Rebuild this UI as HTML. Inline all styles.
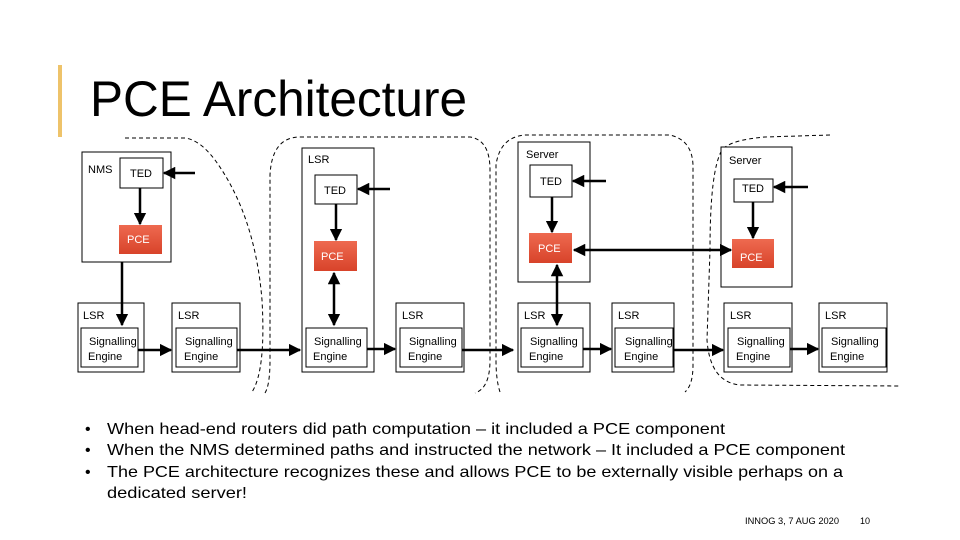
<!DOCTYPE html>
<html><head><meta charset="utf-8"><style>
html,body{margin:0;padding:0;background:#fff;}
svg{display:block;}
text{font-family:"Liberation Sans",sans-serif;fill:#000;}
</style></head><body>
<svg width="960" height="540" viewBox="0 0 960 540" xmlns="http://www.w3.org/2000/svg">
<defs>
<marker id="ah" viewBox="0 0 10 10" refX="9" refY="5" markerWidth="5" markerHeight="5" orient="auto-start-reverse"><path d="M0,0 L10,5 L0,10 z" fill="#000"/></marker>
<linearGradient id="pg" x1="0" y1="0" x2="0" y2="1"><stop offset="0" stop-color="#ee6a50"/><stop offset="1" stop-color="#d8432a"/></linearGradient>
</defs>
<rect x="58" y="65" width="4" height="72" fill="#eec36a"/>
<text x="90" y="116" font-size="50" textLength="377" lengthAdjust="spacingAndGlyphs">PCE Architecture</text>

<g fill="none" stroke="#000" stroke-width="1" stroke-dasharray="4,3">
<path d="M125,138 L185,138 Q200,140 215,160 Q255,215 262,300 Q266,370 252,392"/>
<path d="M300,137 L470,137 Q490,140 490,170 L490,360 Q490,388 475,393"/>
<path d="M265,393 Q270,385 270,360 L270,175 Q272,137 300,137"/>
<path d="M500,392 Q496,380 496,360 L496,165 Q500,137 525,135 L670,135 Q692,140 693,165 L693,365 Q693,385 685,392"/>
<path d="M830,135 L765,137 Q730,140 722,150 Q710,170 710,250 L707,340 Q710,382 740,385 L900,386"/>
</g>

<g fill="#fff" stroke="#000" stroke-width="1">
<rect x="82" y="152" width="89" height="110"/>
<rect x="120" y="158" width="43" height="30"/>
<rect x="302" y="148" width="72" height="224"/>
<rect x="315" y="175" width="42" height="29"/>
<rect x="518" y="142" width="72" height="140"/>
<rect x="530" y="165" width="42" height="32"/>
<rect x="721" y="147" width="71" height="140"/>
<rect x="734" y="179" width="39" height="23"/>
<rect x="78" y="303" width="66" height="69"/><rect x="81" y="328" width="57" height="39"/>
<rect x="172" y="303" width="68" height="69"/><rect x="176" y="328" width="61" height="39"/>
<rect x="306" y="328" width="61" height="39"/>
<rect x="396" y="303" width="68" height="69"/><rect x="400" y="328" width="62" height="39"/>
<rect x="518" y="303" width="72" height="69"/><rect x="521" y="328" width="62" height="39"/>
<rect x="612" y="303" width="62" height="69"/><rect x="615" y="328" width="58" height="39"/>
<rect x="724" y="303" width="68" height="69"/><rect x="728" y="328" width="62" height="39"/>
<rect x="819" y="303" width="68" height="69"/><rect x="822" y="328" width="64" height="39"/>
</g>
<g fill="url(#pg)">
<rect x="119" y="225" width="43" height="29"/>
<rect x="314" y="241" width="43" height="30"/>
<rect x="529" y="233" width="43" height="30"/>
<rect x="732" y="239" width="42" height="29"/>
</g>

<g stroke="#000" stroke-width="2.5" fill="none" marker-end="url(#ah)">
<line x1="195" y1="173" x2="164" y2="173"/>
<line x1="140" y1="188" x2="140" y2="224"/>
<line x1="122" y1="262" x2="122" y2="325"/>
<line x1="390" y1="189" x2="358" y2="189"/>
<line x1="336" y1="204" x2="336" y2="240"/>
<line x1="334" y1="273" x2="334" y2="325" marker-start="url(#ah)"/>
<line x1="606" y1="181" x2="573" y2="181"/>
<line x1="552" y1="197" x2="552" y2="232"/>
<line x1="574" y1="250" x2="731" y2="250" marker-start="url(#ah)"/>
<line x1="557" y1="265" x2="557" y2="325" marker-start="url(#ah)"/>
<line x1="808" y1="187" x2="774" y2="187"/>
<line x1="753" y1="202" x2="753" y2="238"/>
<line x1="138" y1="350" x2="171" y2="350"/>
<line x1="237" y1="350" x2="300" y2="350"/>
<line x1="367" y1="349" x2="395" y2="349"/>
<line x1="462" y1="350" x2="513" y2="350"/>
<line x1="583" y1="349" x2="611" y2="349"/>
<line x1="673" y1="350" x2="723" y2="350"/>
<line x1="790" y1="349" x2="818" y2="349"/>
</g>

<g font-size="11">
<text x="88" y="173">NMS</text>
<text x="130" y="177">TED</text>
<text x="127" y="243" style="fill:#fff">PCE</text>
<text x="308" y="163">LSR</text>
<text x="324" y="194">TED</text>
<text x="321" y="260" style="fill:#fff">PCE</text>
<text x="526" y="158">Server</text>
<text x="540" y="185">TED</text>
<text x="538" y="252" style="fill:#fff">PCE</text>
<text x="729" y="164">Server</text>
<text x="742" y="192">TED</text>
<text x="740" y="261" style="fill:#fff">PCE</text>
<text x="83" y="319">LSR</text><text x="178" y="319">LSR</text><text x="402" y="319">LSR</text>
<text x="524" y="319">LSR</text><text x="618" y="319">LSR</text><text x="730" y="319">LSR</text><text x="825" y="319">LSR</text>
<text x="89" y="345">Signalling</text><text x="88" y="360">Engine</text>
<text x="185" y="345">Signalling</text><text x="184" y="360">Engine</text>
<text x="314" y="345">Signalling</text><text x="313" y="360">Engine</text>
<text x="409" y="345">Signalling</text><text x="408" y="360">Engine</text>
<text x="530" y="345">Signalling</text><text x="529" y="360">Engine</text>
<text x="625" y="345">Signalling</text><text x="624" y="360">Engine</text>
<text x="737" y="345">Signalling</text><text x="736" y="360">Engine</text>
<text x="831" y="345">Signalling</text><text x="830" y="360">Engine</text>
</g>

<g font-size="16">
<text x="85" y="434">•</text><text x="107" y="434" textLength="618" lengthAdjust="spacingAndGlyphs">When head-end routers did path computation – it included a PCE component</text>
<text x="85" y="455">•</text><text x="107" y="455" textLength="738" lengthAdjust="spacingAndGlyphs">When the NMS determined paths and instructed the network – It included a PCE component</text>
<text x="85" y="477">•</text><text x="107" y="477" textLength="736" lengthAdjust="spacingAndGlyphs">The PCE architecture recognizes these and allows PCE to be externally visible perhaps on a</text>
<text x="107" y="498" textLength="140" lengthAdjust="spacingAndGlyphs">dedicated server!</text>
</g>
<text x="745" y="524" font-size="9" textLength="94" lengthAdjust="spacingAndGlyphs">INNOG 3, 7 AUG 2020</text>
<text x="860" y="524" font-size="9">10</text>
</svg>
</body></html>
